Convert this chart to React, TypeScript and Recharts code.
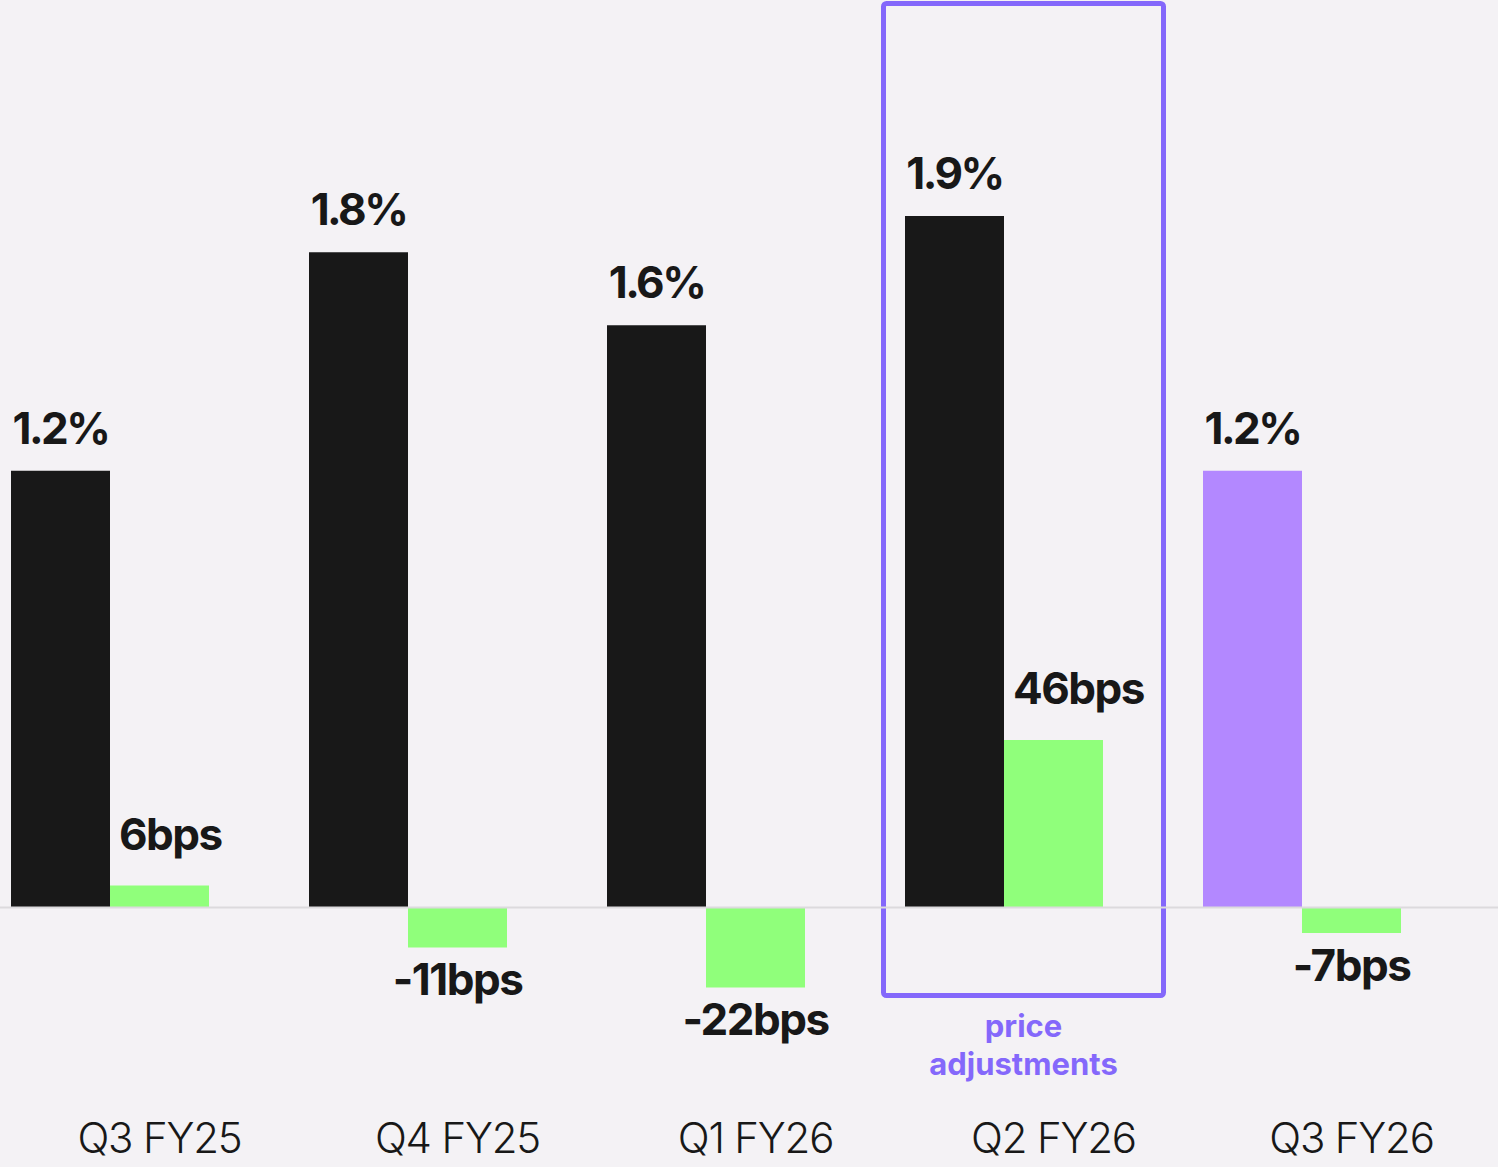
import React from "react";
import {
  BarChart,
  Bar,
  XAxis,
  YAxis,
  Cell,
  LabelList,
  ReferenceLine,
  ReferenceArea,
} from "recharts";

const quarters = ["Q3 FY25", "Q4 FY25", "Q1 FY26", "Q2 FY26", "Q3 FY26"];
const growthPct = [1.2, 1.8, 1.6, 1.9, 1.2];
const changeBps = [6, -11, -22, 46, -7];

const currentQuarter = "Q3 FY26";
const highlightQuarter = "Q2 FY26";
const highlightNote = ["price", "adjustments"];
// vertical extent of the highlight frame, in % units
const highlightRange = [-0.242, 2.484];

const data = quarters.map((quarter, i) => ({
  quarter,
  pct: growthPct[i],
  bps: changeBps[i],
  bpsAsPct: changeBps[i] / 100,
}));

const BG = "#f4f2f5";
const INK = "#181818";
const GREEN = "#90ff7b";
const LILAC = "#b388ff";
const FRAME = "#8468fb";
const FONT = "Inter, 'Noto Sans', sans-serif";
const BAR_W = 99;

const getBox = (props: any) => {
  const vb = props.viewBox ?? props;
  const x = Number(vb.x);
  const y = Number(vb.y);
  const w = Number(vb.width);
  const h = Number(vb.height);
  return { x, w, top: Math.min(y, y + h), bottom: Math.max(y, y + h) };
};

const PctLabel = (props: any) => {
  const { x, w, top } = getBox(props);
  return (
    <text
      x={x + w / 2}
      y={top - 27}
      textAnchor="middle"
      fill={INK}
      fontFamily={FONT}
      fontWeight={700}
      fontSize={44}
      letterSpacing={-2.5}
    >
      {Number(props.value).toFixed(1)}%
    </text>
  );
};

const BpsLabel = (props: any) => {
  const { x, w, top, bottom } = getBox(props);
  const v = Number(props.value);
  const common = {
    fill: INK,
    fontFamily: FONT,
    fontWeight: 700,
    fontSize: 44,
    letterSpacing: -1.5,
  };
  if (v >= 0) {
    return (
      <text x={x + 9} y={top - 36} textAnchor="start" {...common}>
        {v}bps
      </text>
    );
  }
  return (
    <text x={x + w / 2} y={bottom + 48} textAnchor="middle" {...common}>
      {v}bps
    </text>
  );
};

const QuarterTick = (props: any) => {
  const { x, y, payload } = props;
  return (
    <text
      x={x + BAR_W / 2}
      y={y + 100}
      textAnchor="middle"
      fill={INK}
      fontFamily={FONT}
      fontWeight={300}
      fontSize={42}
      letterSpacing={-1.2}
    >
      {payload.value}
    </text>
  );
};

const HighlightFrame = (props: any) => {
  const { x, y, width, height } = props;
  const left = x + 28.5;
  const w = width - 18;
  const cx = left + w / 2;
  const bottom = y + height;
  return (
    <g>
      <rect
        x={left}
        y={y}
        width={w}
        height={height}
        fill="none"
        stroke={FRAME}
        strokeWidth={5}
        rx={3}
      />
      {highlightNote.map((line, i) => (
        <text
          key={line}
          x={cx}
          y={bottom + 41.5 + i * 38}
          textAnchor="middle"
          fill={FRAME}
          fontFamily={FONT}
          fontWeight={700}
          fontSize={31}
        >
          {line}
        </text>
      ))}
    </g>
  );
};

export default function App() {
  return (
    <div
      style={{
        position: "absolute",
        left: 0,
        top: 0,
        width: 1498,
        height: 1167,
        overflow: "hidden",
        background: BG,
      }}
    >
      <div style={{ position: "absolute", left: -39, top: 0 }}>
        <BarChart
          width={1537}
          height={1167}
          data={data}
          margin={{ top: 34, right: 0, bottom: 0, left: 0 }}
          barGap={0}
          barSize={BAR_W}
        >
          <XAxis
            dataKey="quarter"
            axisLine={false}
            tickLine={false}
            tickSize={0}
            tickMargin={0}
            height={114}
            padding={{ left: 0, right: 47 }}
            interval={0}
            tick={(p: any) => <QuarterTick {...p} />}
          />
          <YAxis hide domain={[-0.4, 2.4]} allowDataOverflow />
          <ReferenceArea
            x1={highlightQuarter}
            x2={highlightQuarter}
            y1={highlightRange[0]}
            y2={highlightRange[1]}
            ifOverflow="visible"
            shape={(p: any) => <HighlightFrame {...p} />}
          />
          <Bar dataKey="pct" isAnimationActive={false}>
            {data.map((d) => (
              <Cell
                key={d.quarter}
                fill={d.quarter === currentQuarter ? LILAC : INK}
              />
            ))}
            <LabelList dataKey="pct" content={(p: any) => <PctLabel {...p} />} />
          </Bar>
          <Bar dataKey="bpsAsPct" fill={GREEN} isAnimationActive={false}>
            <LabelList dataKey="bps" content={(p: any) => <BpsLabel {...p} />} />
          </Bar>
          <ReferenceLine y={0} stroke="#dcdadd" strokeWidth={2} />
        </BarChart>
      </div>
    </div>
  );
}
